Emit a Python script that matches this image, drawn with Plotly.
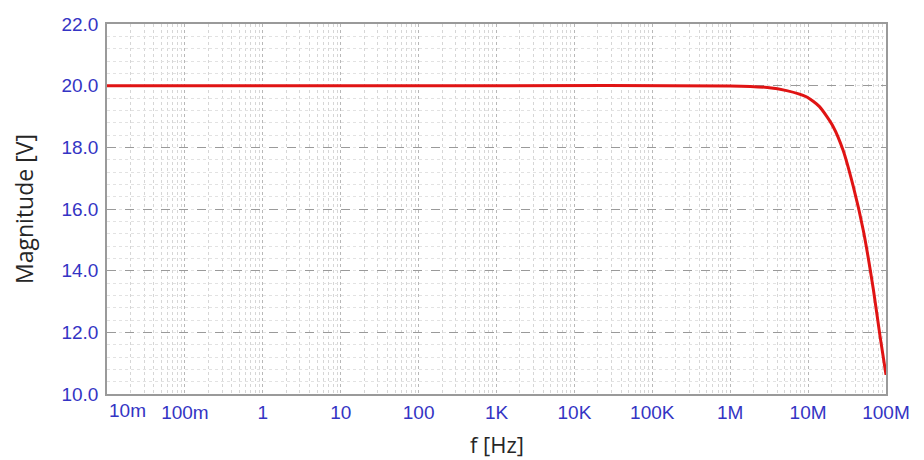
import plotly.graph_objects as go

# Data
freq_hz = [0.01, 1e3, 1e6, 3e6, 5.3e6, 9.5e6, 1.4e7, 2.1e7, 2.8e7, 3.8e7, 5.1e7, 6.9e7, 8.4e7, 1e8]
magnitude_v = [20.0, 20.0, 19.99, 19.94, 19.84, 19.64, 19.32, 18.67, 17.92, 16.73, 15.32, 13.37, 11.86, 10.62]

x_tick_vals = [1e-2, 1e-1, 1, 10, 100, 1e3, 1e4, 1e5, 1e6, 1e7, 1e8]
x_tick_text = ["10m", "100m", "1", "10", "100", "1K", "10K", "100K", "1M", "10M", "100M"]
y_tick_vals = [10, 12, 14, 16, 18, 20, 22]
y_tick_text = ["10.0", "12.0", "14.0", "16.0", "18.0", "20.0", "22.0"]
x_title = "f [Hz]"
y_title = "Magnitude [V]"

minor_x = [m * 10 ** e for e in range(-2, 8) for m in range(2, 10)]

tick_color = "#3434c4"
tick_font = dict(family="Liberation Sans, Arial, sans-serif", size=19, color=tick_color)
title_font = dict(family="Open Sans, sans-serif", size=23, color="#262626")

fig = go.Figure()
fig.add_trace(go.Scatter(
    x=freq_hz, y=magnitude_v, mode="lines",
    line=dict(color="#e01414", width=3, shape="spline", smoothing=0.6),
    showlegend=False, hoverinfo="skip",
))

# first x tick label is drawn shifted right, inside the frame, as in the reference
fig.add_annotation(
    x=0, xref="x domain", y=0, yref="y domain",
    text=x_tick_text[0], showarrow=False,
    xanchor="left", yanchor="top", xshift=0, yshift=-4,
    font=tick_font,
)
# x axis title
fig.add_annotation(
    x=0.5, xref="paper", y=-0.134, yref="paper",
    text=x_title, showarrow=False,
    xanchor="center", yanchor="middle",
    font=dict(title_font, size=22),
)

fig.update_layout(
    width=916, height=452,
    margin=dict(l=99, r=38, t=16, b=66),
    paper_bgcolor="white", plot_bgcolor="white",
    font=tick_font,
)

fig.update_xaxes(
    type="log", range=[-2, 8],
    tickmode="array", tickvals=x_tick_vals, ticktext=[""] + x_tick_text[1:],
    tickfont=tick_font,
    showline=True, linecolor="#9a9a9a", linewidth=1.5, mirror=True,
    showgrid=True, gridcolor="#b8b8b8", griddash="dot", gridwidth=1,
    ticks="", ticklabelstandoff=0,
    minor=dict(tickvals=minor_x, showgrid=True, gridcolor="#d6d6d6", griddash="dot", gridwidth=1),
    zeroline=False, automargin=False,
)
fig.update_yaxes(
    range=[10, 22],
    tickmode="array", tickvals=y_tick_vals, ticktext=y_tick_text,
    tickfont=tick_font,
    showline=True, linecolor="#9a9a9a", linewidth=1.5, mirror=True,
    showgrid=True, gridcolor="#9a9a9a", griddash="dash", gridwidth=1,
    ticks="", ticklabelstandoff=3,
    minor=dict(dtick=0.4, showgrid=True, gridcolor="#e2e2e2", griddash="dot", gridwidth=1),
    title=dict(text=y_title, font=title_font, standoff=22),
    zeroline=False, automargin=False,
)

fig.write_html("out.html")
